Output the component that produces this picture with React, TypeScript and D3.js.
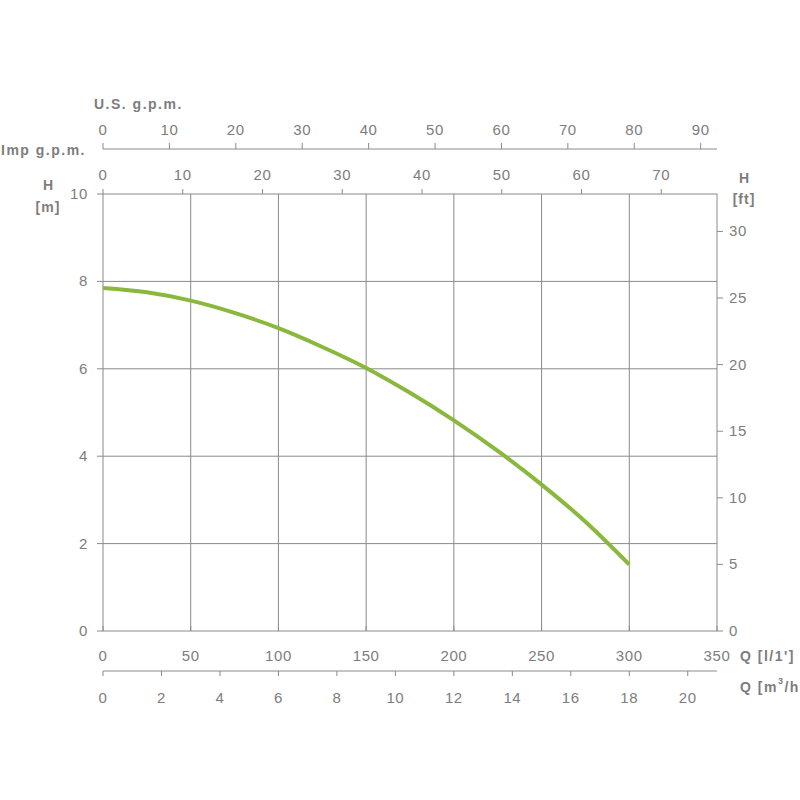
import React from "react";
import * as d3 from "d3";

const flowLmin = [0, 25, 50, 75, 100, 125, 150, 175, 200, 225, 250, 275, 300];
const headM = [7.85, 7.75, 7.56, 7.28, 6.93, 6.5, 6.02, 5.45, 4.82, 4.12, 3.35, 2.5, 1.52];

const lminTicks = [0, 50, 100, 150, 200, 250, 300, 350];
const m3hTicks = [0, 2, 4, 6, 8, 10, 12, 14, 16, 18, 20];
const usTicks = [0, 10, 20, 30, 40, 50, 60, 70, 80, 90];
const impTicks = [0, 10, 20, 30, 40, 50, 60, 70];
const mTicks = [0, 2, 4, 6, 8, 10];
const ftTicks = [0, 5, 10, 15, 20, 25, 30];
const gridQ = [50, 100, 150, 200, 250, 300];
const gridH = [2, 4, 6, 8];

const L = 103, R = 717, T = 194, B = 631;
const grey = "#8a8a8a";
const txt = "#7d7d7d";
const font = "'Liberation Sans', Arial, sans-serif";
const tickFs = 15;
const tickLs = 0.6;
const labFs = 14;
const labLs = 1.5;

export default function App() {
  const x = d3.scaleLinear().domain([0, 350]).range([L, R]);
  const y = d3.scaleLinear().domain([0, 10]).range([B, T]);
  const yFt = d3.scaleLinear().domain([0, 10 * 3.28084]).range([B, T]);
  const xM3h = (v: number) => x((v * 1000) / 60);
  const xUs = (v: number) => x(v * 3.78541);
  const xImp = (v: number) => x(v * 4.54609);
  const line = d3
    .line<number>()
    .x((_, i) => x(flowLmin[i]))
    .y((d) => y(d))
    .curve(d3.curveMonotoneX);

  const usAxisY = 149;
  const m3hAxisY = 671;

  return (
    <svg width={800} height={800} style={{ position: "absolute", left: 0, top: 0, background: "#fff" }} fontFamily={font}>
      <rect x={0} y={0} width={800} height={800} fill="#fff" />
      {/* grid */}
      {gridQ.map((q) => (
        <line key={"gq" + q} x1={x(q)} x2={x(q)} y1={T} y2={B} stroke={grey} strokeWidth={1} />
      ))}
      {gridH.map((h) => (
        <line key={"gh" + h} x1={L} x2={R} y1={y(h)} y2={y(h)} stroke={grey} strokeWidth={1} />
      ))}
      <rect x={L} y={T} width={R - L} height={B - T} fill="none" stroke={grey} strokeWidth={1} />

      {/* left axis */}
      {mTicks.map((m) => (
        <g key={"m" + m}>
          <line x1={L - 6} x2={L} y1={y(m)} y2={y(m)} stroke={grey} />
          <text x={L - 15} y={y(m) + 5} textAnchor="end" fontSize={tickFs} letterSpacing={tickLs} fill={txt}>{m}</text>
        </g>
      ))}
      <text x={48} y={190} textAnchor="middle" fontSize={labFs} fontWeight="bold" fill={txt}>H</text>
      <text x={48} y={212} textAnchor="middle" fontSize={labFs} fontWeight="bold" letterSpacing={1} fill={txt}>[m]</text>

      {/* right axis */}
      {ftTicks.map((f) => (
        <g key={"f" + f}>
          <line x1={R} x2={R + 6} y1={yFt(f)} y2={yFt(f)} stroke={grey} />
          <text x={R + 12} y={yFt(f) + 5} textAnchor="start" fontSize={tickFs} letterSpacing={tickLs} fill={txt}>{f}</text>
        </g>
      ))}
      <text x={744} y={183} textAnchor="middle" fontSize={labFs} fontWeight="bold" fill={txt}>H</text>
      <text x={744} y={204} textAnchor="middle" fontSize={labFs} fontWeight="bold" letterSpacing={1} fill={txt}>[ft]</text>

      {/* bottom L/min */}
      {lminTicks.map((q) => (
        <g key={"q" + q}>
          <line x1={x(q)} x2={x(q)} y1={B - 5} y2={B} stroke={grey} />
          <text x={x(q)} y={661} textAnchor="middle" fontSize={tickFs} letterSpacing={tickLs} fill={txt}>{q}</text>
        </g>
      ))}
      <text x={740} y={661} fontSize={labFs} fontWeight="bold" letterSpacing={labLs} fill={txt}>Q [l/1']</text>

      {/* bottom m3/h */}
      <line x1={L} x2={R} y1={m3hAxisY} y2={m3hAxisY} stroke={grey} />
      {m3hTicks.map((v) => (
        <g key={"v" + v}>
          <line x1={xM3h(v)} x2={xM3h(v)} y1={m3hAxisY} y2={m3hAxisY + 5} stroke={grey} />
          <text x={xM3h(v)} y={703} textAnchor="middle" fontSize={tickFs} letterSpacing={tickLs} fill={txt}>{v}</text>
        </g>
      ))}
      <text x={740} y={692} fontSize={labFs} fontWeight="bold" letterSpacing={labLs} fill={txt}>
        Q [m<tspan dy={-8} fontSize={9}>3</tspan><tspan dy={8}>/h</tspan>
      </text>

      {/* top U.S. gpm */}
      <line x1={L} x2={R} y1={usAxisY} y2={usAxisY} stroke={grey} />
      {usTicks.map((v) => (
        <g key={"us" + v}>
          <line x1={xUs(v)} x2={xUs(v)} y1={usAxisY - 6} y2={usAxisY} stroke={grey} />
          <text x={xUs(v)} y={135} textAnchor="middle" fontSize={tickFs} letterSpacing={tickLs} fill={txt}>{v}</text>
        </g>
      ))}
      <text x={94} y={109} fontSize={labFs} fontWeight="bold" fill={txt} letterSpacing={labLs}>U.S. g.p.m.</text>

      {/* top Imp gpm */}
      {impTicks.map((v) => (
        <g key={"imp" + v}>
          <line x1={xImp(v)} x2={xImp(v)} y1={T - 5} y2={T} stroke={grey} />
          <text x={xImp(v)} y={180} textAnchor="middle" fontSize={tickFs} letterSpacing={tickLs} fill={txt}>{v}</text>
        </g>
      ))}
      <text x={86} y={155} textAnchor="end" fontSize={labFs} fontWeight="bold" fill={txt} letterSpacing={labLs}>Imp g.p.m.</text>

      {/* curve */}
      <path d={line(headM) || ""} fill="none" stroke="#8ab83c" strokeWidth={4} strokeLinecap="butt" />
    </svg>
  );
}
